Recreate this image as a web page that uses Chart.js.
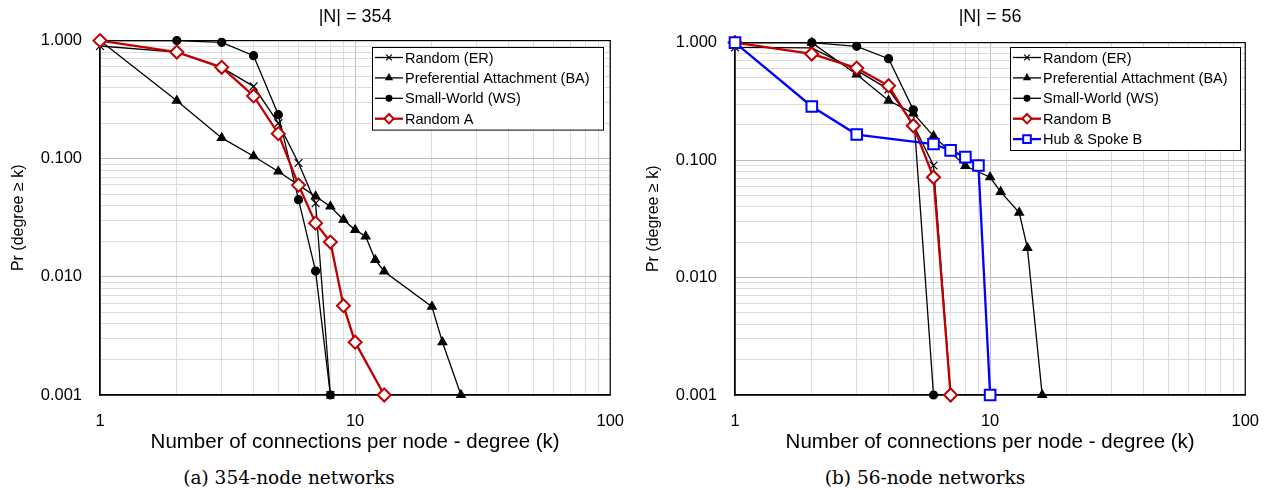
<!DOCTYPE html>
<html>
<head>
<meta charset="utf-8">
<script src="https://cdn.jsdelivr.net/npm/chart.js@4.4.1/dist/chart.umd.min.js"></script>
<style>
body { margin: 0; background: #fff; width: 1270px; height: 490px; position: relative; overflow: hidden; }
.panel { position: absolute; top: 0; width: 641px; height: 460px; }
.caption { position: absolute; top: 467px; font-family: "DejaVu Serif", "Liberation Serif", serif; font-size: 18.5px; color: #000; white-space: nowrap; transform: translateX(-50%); }
</style>
</head>
<body>
<div class="panel" style="left:0"><canvas id="chartA"></canvas></div>
<div class="panel" style="left:635px"><canvas id="chartB"></canvas></div>
<div class="caption" style="left:289px">(a) 354-node networks</div>
<div class="caption" style="left:925px">(b) 56-node networks</div>
<script>
// axis ticks
var xMajor = [1, 10, 100];
var xTickLabels = ['1', '10', '100'];
var yMajor = [0.001, 0.01, 0.1, 1];
var yTickLabels = ['0.001', '0.010', '0.100', '1.000'];

// 354-node networks
var erA_k = [1, 2, 3, 4, 5, 6, 7, 8];
var erA_p = [0.9, 0.8, 0.59, 0.41, 0.2, 0.092, 0.042, 0.001];
var baA_k = [1, 2, 3, 4, 5, 7, 8, 9, 10, 11, 12, 13, 20, 22, 26];
var baA_p = [1, 0.31, 0.15, 0.105, 0.078, 0.048, 0.0394, 0.0305, 0.025, 0.022, 0.0139, 0.0111, 0.0056, 0.0028, 0.001];
var swA_k = [1, 2, 3, 4, 5, 6, 7, 8];
var swA_p = [1, 1, 0.967, 0.746, 0.236, 0.045, 0.0112, 0.001];
var randA_k = [1, 2, 3, 4, 5, 6, 7, 8, 9, 10, 13];
var randA_p = [1, 0.8, 0.594, 0.34, 0.163, 0.0598, 0.0285, 0.0197, 0.0057, 0.0028, 0.001];

// 56-node networks
var erB_k = [1, 2, 3, 4, 5, 6, 7];
var erB_p = [0.91, 0.9, 0.58, 0.4, 0.2, 0.09, 0.001];
var baB_k = [1, 2, 3, 4, 5, 6, 8, 10, 11, 13, 14, 16];
var baB_p = [1, 1, 0.536, 0.321, 0.25, 0.16, 0.089, 0.0714, 0.0536, 0.0357, 0.0179, 0.001];
var swB_k = [1, 2, 3, 4, 5, 6];
var swB_p = [1, 1, 0.93, 0.73, 0.268, 0.001];
var randB_k = [1, 2, 3, 4, 5, 6, 7];
var randB_p = [1, 0.8, 0.607, 0.429, 0.196, 0.0714, 0.001];
var hubB_k = [1, 2, 3, 6, 7, 8, 9, 10];
var hubB_p = [1, 0.286, 0.165, 0.137, 0.121, 0.106, 0.0898, 0.001];

var FONT = 'Liberation Sans, Arial, Helvetica, sans-serif';

function pts(ks, ps) {
	return ks.map(function (k, i) { return { x: k, y: ps[i] }; });
}

// every 1..9 step of each decade, for the grid
function logTicks(lo, hi) {
	var t = [];
	for (var d = lo; d < hi * 0.99; d = Number((d * 10).toPrecision(3))) {
		for (var m = 1; m < 10; m++) t.push({ value: Number((m * d).toPrecision(3)) });
	}
	t.push({ value: hi });
	return t;
}

function isMajor(list, v) {
	for (var i = 0; i < list.length; i++) if (Math.abs(list[i] - v) < list[i] * 1e-6) return i;
	return -1;
}

function blackSeries(label, data, style, radius, order) {
	return {
		label: label, data: data, order: order,
		borderColor: '#000', backgroundColor: '#000', borderWidth: 1.3,
		pointStyle: style, pointRadius: radius, pointBorderColor: '#000', pointBackgroundColor: '#000',
		pointBorderWidth: 1.2, tension: 0, clip: false
	};
}

function openSeries(label, data, color, style, radius, order) {
	return {
		label: label, data: data, order: order,
		borderColor: color, backgroundColor: '#fff', borderWidth: 2.3,
		pointStyle: style, pointRadius: radius, pointBorderColor: color, pointBackgroundColor: '#fff',
		pointBorderWidth: 2, tension: 0, clip: false
	};
}

var framePlugin = {
	id: 'frame',
	beforeDatasetsDraw: function (chart) {
		var a = chart.chartArea, ctx = chart.ctx;
		ctx.save();
		ctx.strokeStyle = '#000';
		ctx.lineWidth = 1.2;
		ctx.strokeRect(a.left, a.top, a.right - a.left, a.bottom - a.top);
		ctx.restore();
	}
};

var boxLegend = {
	id: 'boxLegend',
	afterDraw: function (chart, args, opts) {
		var ctx = chart.ctx, sets = chart.data.datasets;
		var x = opts.x, y = opts.y, w = opts.w, rowH = 20.4;
		var h = sets.length * rowH + 1;
		ctx.save();
		ctx.fillStyle = '#fff';
		ctx.fillRect(x, y, w, h);
		ctx.strokeStyle = '#000';
		ctx.lineWidth = 1;
		ctx.strokeRect(x + 0.5, y + 0.5, w, h);
		ctx.font = '14.5px ' + FONT;
		ctx.textBaseline = 'middle';
		sets.forEach(function (ds, i) {
			var cy = y + 10.5 + i * rowH;
			ctx.strokeStyle = ds.borderColor;
			ctx.lineWidth = ds.borderWidth;
			ctx.beginPath();
			ctx.moveTo(x + 3, cy);
			ctx.lineTo(x + 31, cy);
			ctx.stroke();
			ctx.fillStyle = ds.pointBackgroundColor;
			ctx.strokeStyle = ds.pointBorderColor;
			ctx.lineWidth = ds.pointBorderWidth;
			Chart.helpers.drawPoint(ctx, { pointStyle: ds.pointStyle, radius: ds.pointRadius * 0.72, rotation: 0, borderWidth: ds.pointBorderWidth }, x + 17, cy);
			ctx.fillStyle = '#000';
			ctx.fillText(ds.label, x + 33, cy + 1);
		});
		ctx.restore();
	}
};

function makeChart(id, title, titleBottom, datasets, legendPos) {
	return new Chart(document.getElementById(id), {
		type: 'line',
		data: { datasets: datasets },
		options: {
			responsive: true,
			maintainAspectRatio: false,
			animation: false,
			layout: { padding: { left: 0, right: 20, top: 0, bottom: 0 } },
			plugins: {
				legend: { display: false },
				tooltip: { enabled: false },
				title: {
					display: true, text: title, color: '#000', fullSize: false,
					font: { family: FONT, size: 18, weight: 'normal' },
					padding: { top: 6, bottom: titleBottom }
				},
				boxLegend: legendPos
			},
			scales: {
				x: {
					type: 'logarithmic', min: 1, max: 100,
					afterBuildTicks: function (s) { s.ticks = logTicks(1, 100); },
					afterFit: function (s) { s.height = 65; },
					ticks: {
						autoSkip: false, maxRotation: 0, padding: 17, color: '#000',
						font: { family: FONT, size: 16.5 },
						callback: function (v) { var i = isMajor(xMajor, v); return i >= 0 ? xTickLabels[i] : ''; }
					},
					grid: {
						drawTicks: false, lineWidth: 1,
						color: function (c) { return c.tick && isMajor(xMajor, c.tick.value) >= 0 ? '#bdbdbd' : '#dcdcdc'; }
					},
					border: { display: true, color: '#000', width: 1.2 },
					title: {
						display: true, text: 'Number of connections per node - degree (k)', color: '#000',
						font: { family: FONT, size: 20.5 }, padding: { top: 0, bottom: 5 }
					}
				},
				y: {
					type: 'logarithmic', min: 0.001, max: 1,
					afterBuildTicks: function (s) { s.ticks = logTicks(0.001, 1); },
					afterFit: function (s) { s.width = 100; },
					ticks: {
						autoSkip: false, padding: 18, color: '#000',
						font: { family: FONT, size: 16.5 },
						callback: function (v) { var i = isMajor(yMajor, v); return i >= 0 ? yTickLabels[i] : ''; }
					},
					grid: {
						drawTicks: false, lineWidth: 1,
						color: function (c) { return c.tick && isMajor(yMajor, c.tick.value) >= 0 ? '#bdbdbd' : '#dcdcdc'; }
					},
					border: { display: true, color: '#000', width: 1.2 },
					title: {
						display: true, text: 'Pr (degree \u2265 k)', color: '#000',
						font: { family: FONT, size: 16 }, padding: { top: 9 }
					}
				}
			}
		},
		plugins: [framePlugin, boxLegend]
	});
}

makeChart('chartA', '|N| = 354', 13, [
	blackSeries('Random (ER)', pts(erA_k, erA_p), 'crossRot', 5.5, 5),
	blackSeries('Preferential Attachment (BA)', pts(baA_k, baA_p), 'triangle', 5, 4),
	blackSeries('Small-World (WS)', pts(swA_k, swA_p), 'circle', 4, 3),
	openSeries('Random A', pts(randA_k, randA_p), '#c00000', 'rectRot', 6.5, 2)
], { x: 372, y: 47, w: 231 });

makeChart('chartB', '|N| = 56', 15, [
	blackSeries('Random (ER)', pts(erB_k, erB_p), 'crossRot', 5.5, 5),
	blackSeries('Preferential Attachment (BA)', pts(baB_k, baB_p), 'triangle', 5, 4),
	blackSeries('Small-World (WS)', pts(swB_k, swB_p), 'circle', 4, 3),
	openSeries('Random B', pts(randB_k, randB_p), '#c00000', 'rectRot', 6.5, 2),
	openSeries('Hub & Spoke B', pts(hubB_k, hubB_p), '#0000ff', 'rect', 7.5, 1)
], { x: 375, y: 47, w: 230 });
</script>
</body>
</html>
